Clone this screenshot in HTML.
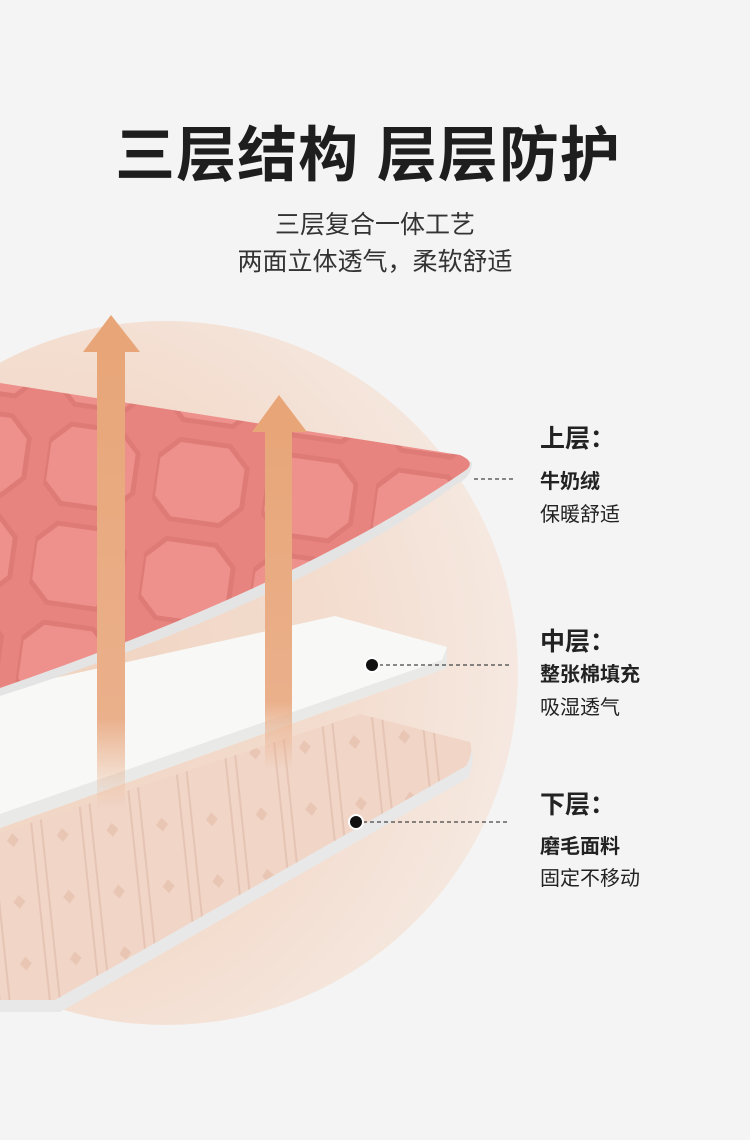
<!DOCTYPE html>
<html><head><meta charset="utf-8"><style>
html,body{margin:0;padding:0;}
body{width:750px;height:1140px;background:#f4f4f4;position:relative;overflow:hidden;font-family:"Liberation Sans","Noto Sans CJK SC",sans-serif;color:#222;}
.t{position:absolute;white-space:nowrap;}
</style></head><body>
<svg width="750" height="1140" style="position:absolute;left:0;top:0">
<defs>
<radialGradient id="cg" cx="0.3" cy="0.5" r="0.75">
<stop offset="0" stop-color="#f0d2bf"/><stop offset="0.6" stop-color="#f3ddcf"/><stop offset="1" stop-color="#f6ebe4"/>
</radialGradient>
<pattern id="pk" width="110" height="100" patternUnits="userSpaceOnUse" patternTransform="rotate(8)">
<rect width="110" height="100" fill="#e8847f"/>
<path d="M20 10 L70 10 L90 30 L90 70 L70 90 L20 90 L0 70 L0 30 Z" fill="#ee918c" stroke="#df7b76" stroke-width="5"/>
</pattern>
<pattern id="bg2" width="50" height="62" patternUnits="userSpaceOnUse" patternTransform="rotate(-6)">
<rect width="50" height="62" fill="#f1d5c7"/>
<path d="M5 0 V62 M45 0 V62" stroke="#e5c4b4" stroke-width="2"/>
<path d="M25 24 L31 31 L25 38 L19 31 Z" fill="#e9c6b4"/>
</pattern>
<linearGradient id="ar" x1="0" y1="0" x2="0" y2="1">
<stop offset="0" stop-color="#e8a678"/><stop offset="0.8" stop-color="#eab08b"/><stop offset="1" stop-color="#eab08b" stop-opacity="0"/>
</linearGradient>
</defs>
<circle cx="166" cy="673" r="352" fill="url(#cg)"/>
<path d="M0 835 L360 718 L470 745 Q476 760 468 778 L60 1012 L0 1012 Z" fill="#e8e8e8"/>
<path d="M0 833 L360 714 L470 742 Q474 752 466 766 L55 1000 L0 1000 Z" fill="url(#bg2)"/>
<path d="M0 690 L335 616 L447 647 L447 668 L0 828 Z" fill="#f8f8f6"/>
<path d="M447 647 L447 668 L0 828 L0 814 L442 660 Z" fill="#e9e9e7"/>
<path d="M0 390 L472 462 Q472 478 455 485 Q300 600 0 696 Z" fill="#e4e4e4"/>
<path d="M0 383 L460 455 Q476 462 466 470 Q300 585 0 688 Z" fill="url(#pk)"/>
<rect x="97" y="350" width="28" height="460" fill="url(#ar)"/>
<path d="M111 315 L140 352 L83 352 Z" fill="#e8a678"/>
<rect x="265" y="430" width="27" height="340" fill="url(#ar)"/>
<path d="M279 395 L307 432 L252 432 Z" fill="#e8a678"/>
<line x1="474" y1="479" x2="515" y2="479" stroke="#444" stroke-width="1.3" stroke-dasharray="4 3"/>
<line x1="372" y1="665" x2="510" y2="665" stroke="#444" stroke-width="1.3" stroke-dasharray="4 3"/>
<circle cx="372" cy="665" r="7" fill="#111" stroke="#fff" stroke-width="2"/>
<line x1="356" y1="822" x2="508" y2="822" stroke="#444" stroke-width="1.3" stroke-dasharray="4 3"/>
<circle cx="356" cy="822" r="7" fill="#111" stroke="#fff" stroke-width="2"/>
</svg>
<div class="t" style="left:0;width:736px;text-align:center;top:107px;font-size:60px;font-weight:bold;color:#1e1e1e;letter-spacing:1px">三层结构 层层防护</div>
<div class="t" style="left:0;width:750px;text-align:center;top:205px;font-size:25px;color:#333">三层复合一体工艺</div>
<div class="t" style="left:0;width:750px;text-align:center;top:242px;font-size:25px;color:#333">两面立体透气，柔软舒适</div>
<div class="t" style="left:540px;top:419px;font-size:25px;font-weight:bold">上层：</div>
<div class="t" style="left:540px;top:465px;font-size:20px;font-weight:bold">牛奶绒</div>
<div class="t" style="left:540px;top:498px;font-size:20px">保暖舒适</div>
<div class="t" style="left:540px;top:622px;font-size:25px;font-weight:bold">中层：</div>
<div class="t" style="left:540px;top:658px;font-size:20px;font-weight:bold">整张棉填充</div>
<div class="t" style="left:540px;top:691px;font-size:20px">吸湿透气</div>
<div class="t" style="left:540px;top:785px;font-size:25px;font-weight:bold">下层：</div>
<div class="t" style="left:540px;top:830px;font-size:20px;font-weight:bold">磨毛面料</div>
<div class="t" style="left:540px;top:862px;font-size:20px">固定不移动</div>
</body></html>
